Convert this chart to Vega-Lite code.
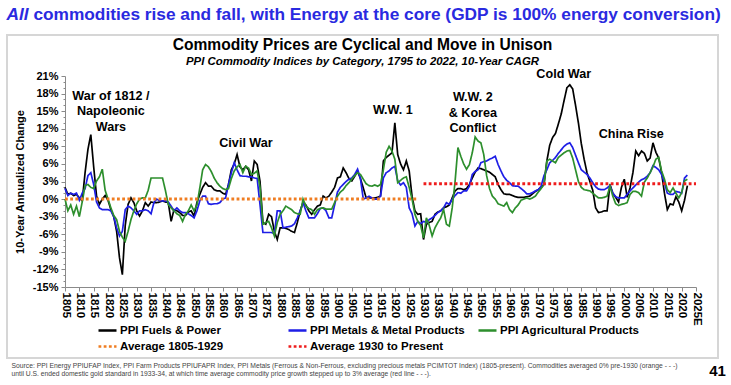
{
  "$schema": "https://vega.github.io/schema/vega-lite/v6.json",
  "width": 711,
  "height": 323,
  "autosize": {"type": "none"},
  "padding": {"left": 7, "top": 35, "right": 13, "bottom": 27},
  "background": "white",
  "title": {
    "text": "Commodity Prices are Cyclical and Move in Unison",
    "subtitle": "PPI Commodity Indices by Category, 1795 to 2022, 10-Year CAGR",
    "anchor": "middle", "frame": "group", "offset": -62,
    "font": "Liberation Sans", "fontSize": 15.6, "fontWeight": "bold", "color": "#000000",
    "subtitleFont": "Liberation Sans", "subtitleFontSize": 11.4, "subtitleFontWeight": "bold",
    "subtitleFontStyle": "italic", "subtitleColor": "#000000", "subtitlePadding": 2
  },
  "datasets": {
    "ppi": [
      {"year":1805,"fuels":2.0,"metals":1.8,"ag":0.0},
      {"year":1806,"fuels":0.8,"metals":0.6,"ag":-2.0},
      {"year":1807,"fuels":1.0,"metals":1.0,"ag":-1.0},
      {"year":1808,"fuels":0.6,"metals":0.8,"ag":-2.6},
      {"year":1809,"fuels":0.8,"metals":1.0,"ag":-1.2},
      {"year":1810,"fuels":0.2,"metals":-0.2,"ag":-3.0},
      {"year":1811,"fuels":-0.3,"metals":1.0,"ag":-0.5},
      {"year":1812,"fuels":4.5,"metals":1.8,"ag":2.3},
      {"year":1813,"fuels":8.5,"metals":4.0,"ag":2.5},
      {"year":1814,"fuels":11.0,"metals":4.5,"ag":2.0},
      {"year":1815,"fuels":5.5,"metals":2.5,"ag":1.8},
      {"year":1816,"fuels":0.5,"metals":-0.5,"ag":3.1},
      {"year":1817,"fuels":-0.9,"metals":-1.5,"ag":3.8},
      {"year":1818,"fuels":0.0,"metals":-1.8,"ag":5.1},
      {"year":1819,"fuels":0.6,"metals":-1.8,"ag":1.5},
      {"year":1820,"fuels":-0.2,"metals":-1.8,"ag":0.0},
      {"year":1821,"fuels":-1.8,"metals":-2.0,"ag":-1.5},
      {"year":1822,"fuels":-3.0,"metals":-3.0,"ag":-2.8},
      {"year":1823,"fuels":-5.5,"metals":-4.9,"ag":-3.5},
      {"year":1824,"fuels":-10.0,"metals":-6.3,"ag":-5.5},
      {"year":1825,"fuels":-12.9,"metals":-5.5,"ag":-6.5},
      {"year":1826,"fuels":-4.5,"metals":-1.8,"ag":-7.2},
      {"year":1827,"fuels":-0.9,"metals":-1.2,"ag":-5.5},
      {"year":1828,"fuels":0.2,"metals":-1.5,"ag":-3.5},
      {"year":1829,"fuels":-0.6,"metals":-2.0,"ag":-2.0},
      {"year":1830,"fuels":-2.0,"metals":-2.6,"ag":-0.8},
      {"year":1831,"fuels":-2.9,"metals":-2.0,"ag":0.0},
      {"year":1832,"fuels":-2.0,"metals":-2.0,"ag":0.2},
      {"year":1833,"fuels":-0.6,"metals":-1.8,"ag":0.2},
      {"year":1834,"fuels":-1.2,"metals":-2.0,"ag":1.5},
      {"year":1835,"fuels":-0.5,"metals":-2.5,"ag":3.6},
      {"year":1836,"fuels":-0.6,"metals":-0.6,"ag":3.6},
      {"year":1837,"fuels":-0.6,"metals":0.0,"ag":3.6},
      {"year":1838,"fuels":-0.5,"metals":-0.3,"ag":3.6},
      {"year":1839,"fuels":-0.3,"metals":-0.3,"ag":3.6},
      {"year":1840,"fuels":-0.5,"metals":-0.3,"ag":1.5},
      {"year":1841,"fuels":-0.6,"metals":-0.5,"ag":-0.9},
      {"year":1842,"fuels":-3.8,"metals":-1.2,"ag":-1.5},
      {"year":1843,"fuels":-1.8,"metals":-2.0,"ag":-2.0},
      {"year":1844,"fuels":-2.0,"metals":-1.5,"ag":-2.5},
      {"year":1845,"fuels":-2.3,"metals":-2.0,"ag":-2.8},
      {"year":1846,"fuels":-2.8,"metals":-2.3,"ag":-3.8},
      {"year":1847,"fuels":-2.8,"metals":-2.3,"ag":-2.6},
      {"year":1848,"fuels":-2.2,"metals":-2.5,"ag":-2.0},
      {"year":1849,"fuels":-2.0,"metals":-2.8,"ag":-1.0},
      {"year":1850,"fuels":-2.9,"metals":-3.2,"ag":-2.0},
      {"year":1851,"fuels":-0.6,"metals":-2.0,"ag":-1.0},
      {"year":1852,"fuels":0.8,"metals":-0.3,"ag":1.9},
      {"year":1853,"fuels":2.0,"metals":0.5,"ag":5.0},
      {"year":1854,"fuels":2.8,"metals":0.5,"ag":5.9},
      {"year":1855,"fuels":2.2,"metals":-0.8,"ag":5.5},
      {"year":1856,"fuels":2.2,"metals":-0.9,"ag":4.7},
      {"year":1857,"fuels":1.6,"metals":-0.8,"ag":3.6},
      {"year":1858,"fuels":1.4,"metals":-0.8,"ag":2.8},
      {"year":1859,"fuels":1.4,"metals":-0.6,"ag":2.2},
      {"year":1860,"fuels":1.0,"metals":0.0,"ag":1.8},
      {"year":1861,"fuels":0.8,"metals":0.2,"ag":1.6},
      {"year":1862,"fuels":2.5,"metals":2.5,"ag":1.8},
      {"year":1863,"fuels":5.0,"metals":4.5,"ag":3.5},
      {"year":1864,"fuels":6.0,"metals":6.2,"ag":4.8},
      {"year":1865,"fuels":7.6,"metals":5.0,"ag":5.5},
      {"year":1866,"fuels":5.5,"metals":4.0,"ag":5.9},
      {"year":1867,"fuels":5.0,"metals":3.9,"ag":4.5},
      {"year":1868,"fuels":5.6,"metals":3.9,"ag":5.6},
      {"year":1869,"fuels":5.0,"metals":3.8,"ag":5.3},
      {"year":1870,"fuels":3.1,"metals":3.8,"ag":4.2},
      {"year":1871,"fuels":6.5,"metals":3.6,"ag":4.4},
      {"year":1872,"fuels":5.9,"metals":3.5,"ag":4.8},
      {"year":1873,"fuels":3.0,"metals":-1.0,"ag":2.0},
      {"year":1874,"fuels":-4.0,"metals":-5.7,"ag":-4.3},
      {"year":1875,"fuels":-4.3,"metals":-5.7,"ag":-4.0},
      {"year":1876,"fuels":-2.6,"metals":-5.7,"ag":-3.8},
      {"year":1877,"fuels":-3.0,"metals":-5.7,"ag":-4.9},
      {"year":1878,"fuels":-5.5,"metals":-5.9,"ag":-6.3},
      {"year":1879,"fuels":-6.9,"metals":-2.0,"ag":-4.0},
      {"year":1880,"fuels":-4.9,"metals":-2.0,"ag":-2.6},
      {"year":1881,"fuels":-4.9,"metals":-4.9,"ag":-2.0},
      {"year":1882,"fuels":-5.0,"metals":-4.8,"ag":-1.2},
      {"year":1883,"fuels":-5.2,"metals":-4.7,"ag":-1.5},
      {"year":1884,"fuels":-5.5,"metals":-4.6,"ag":-1.8},
      {"year":1885,"fuels":-5.7,"metals":-4.2,"ag":-2.3},
      {"year":1886,"fuels":-4.0,"metals":-3.2,"ag":-2.5},
      {"year":1887,"fuels":-2.0,"metals":-2.0,"ag":-2.6},
      {"year":1888,"fuels":-0.6,"metals":-0.6,"ag":0.0},
      {"year":1889,"fuels":-1.0,"metals":-2.0,"ag":-1.2},
      {"year":1890,"fuels":-2.0,"metals":-3.2,"ag":-1.6},
      {"year":1891,"fuels":-2.6,"metals":-3.2,"ag":-1.8},
      {"year":1892,"fuels":-1.8,"metals":-3.2,"ag":-2.6},
      {"year":1893,"fuels":-1.2,"metals":-2.5,"ag":-1.8},
      {"year":1894,"fuels":-1.0,"metals":-1.6,"ag":-1.6},
      {"year":1895,"fuels":0.5,"metals":-1.5,"ag":-1.5},
      {"year":1896,"fuels":0.2,"metals":-2.0,"ag":-1.7},
      {"year":1897,"fuels":0.5,"metals":-3.2,"ag":-1.7},
      {"year":1898,"fuels":1.2,"metals":-3.2,"ag":-1.7},
      {"year":1899,"fuels":2.0,"metals":-1.0,"ag":-0.6},
      {"year":1900,"fuels":3.6,"metals":1.2,"ag":0.5},
      {"year":1901,"fuels":3.8,"metals":2.0,"ag":1.2},
      {"year":1902,"fuels":5.3,"metals":2.5,"ag":1.6},
      {"year":1903,"fuels":4.5,"metals":3.0,"ag":2.3},
      {"year":1904,"fuels":3.5,"metals":3.4,"ag":2.8},
      {"year":1905,"fuels":3.1,"metals":3.6,"ag":3.4},
      {"year":1906,"fuels":3.9,"metals":4.2,"ag":4.0},
      {"year":1907,"fuels":4.8,"metals":5.1,"ag":4.5},
      {"year":1908,"fuels":3.5,"metals":3.5,"ag":4.2},
      {"year":1909,"fuels":1.9,"metals":0.0,"ag":3.4},
      {"year":1910,"fuels":0.2,"metals":0.2,"ag":2.6},
      {"year":1911,"fuels":0.2,"metals":0.5,"ag":2.3},
      {"year":1912,"fuels":0.2,"metals":0.2,"ag":2.2},
      {"year":1913,"fuels":0.2,"metals":0.0,"ag":2.4},
      {"year":1914,"fuels":0.3,"metals":0.0,"ag":2.2},
      {"year":1915,"fuels":0.5,"metals":0.5,"ag":2.5},
      {"year":1916,"fuels":6.5,"metals":3.6,"ag":5.0},
      {"year":1917,"fuels":7.1,"metals":4.5,"ag":8.0},
      {"year":1918,"fuels":7.5,"metals":4.8,"ag":9.0},
      {"year":1919,"fuels":7.9,"metals":5.3,"ag":8.2},
      {"year":1920,"fuels":13.0,"metals":5.6,"ag":6.8},
      {"year":1921,"fuels":7.6,"metals":3.1,"ag":2.8},
      {"year":1922,"fuels":6.0,"metals":2.4,"ag":3.2},
      {"year":1923,"fuels":5.0,"metals":2.8,"ag":3.6},
      {"year":1924,"fuels":6.5,"metals":2.0,"ag":3.8},
      {"year":1925,"fuels":4.8,"metals":-1.5,"ag":2.0},
      {"year":1926,"fuels":0.5,"metals":-2.5,"ag":0.0},
      {"year":1927,"fuels":-2.0,"metals":-4.6,"ag":-2.6},
      {"year":1928,"fuels":-2.6,"metals":-3.8,"ag":-3.8},
      {"year":1929,"fuels":-2.5,"metals":-4.2,"ag":-4.5},
      {"year":1930,"fuels":-6.9,"metals":-3.8,"ag":-6.6},
      {"year":1931,"fuels":-4.3,"metals":-4.0,"ag":-3.2},
      {"year":1932,"fuels":-4.0,"metals":-3.5,"ag":-4.5},
      {"year":1933,"fuels":-3.8,"metals":-3.2,"ag":-6.3},
      {"year":1934,"fuels":-2.6,"metals":-2.8,"ag":-4.9},
      {"year":1935,"fuels":-2.2,"metals":-2.3,"ag":-4.0},
      {"year":1936,"fuels":-2.0,"metals":-2.0,"ag":-3.2},
      {"year":1937,"fuels":-1.5,"metals":-1.5,"ag":-1.8},
      {"year":1938,"fuels":-1.3,"metals":-0.6,"ag":-4.3},
      {"year":1939,"fuels":-1.0,"metals":-0.9,"ag":-4.6},
      {"year":1940,"fuels":0.2,"metals":0.0,"ag":-1.5},
      {"year":1941,"fuels":1.4,"metals":0.6,"ag":3.0},
      {"year":1942,"fuels":1.8,"metals":1.1,"ag":8.8},
      {"year":1943,"fuels":1.8,"metals":1.0,"ag":7.3},
      {"year":1944,"fuels":1.6,"metals":1.4,"ag":6.0},
      {"year":1945,"fuels":1.8,"metals":1.4,"ag":5.1},
      {"year":1946,"fuels":2.5,"metals":2.2,"ag":5.9},
      {"year":1947,"fuels":3.6,"metals":4.2,"ag":7.9},
      {"year":1948,"fuels":4.6,"metals":4.7,"ag":10.6},
      {"year":1949,"fuels":5.3,"metals":5.0,"ag":9.9},
      {"year":1950,"fuels":5.2,"metals":6.2,"ag":9.6},
      {"year":1951,"fuels":5.0,"metals":6.4,"ag":7.6},
      {"year":1952,"fuels":4.8,"metals":6.5,"ag":4.0},
      {"year":1953,"fuels":4.6,"metals":6.8,"ag":1.8},
      {"year":1954,"fuels":4.2,"metals":7.0,"ag":0.5},
      {"year":1955,"fuels":3.8,"metals":7.3,"ag":0.0},
      {"year":1956,"fuels":2.5,"metals":5.9,"ag":-0.8},
      {"year":1957,"fuels":1.6,"metals":4.8,"ag":-1.0},
      {"year":1958,"fuels":0.9,"metals":3.8,"ag":-1.2},
      {"year":1959,"fuels":0.8,"metals":3.2,"ag":-0.6},
      {"year":1960,"fuels":0.8,"metals":2.8,"ag":-1.8},
      {"year":1961,"fuels":0.6,"metals":2.3,"ag":-2.3},
      {"year":1962,"fuels":0.4,"metals":2.2,"ag":-1.5},
      {"year":1963,"fuels":0.3,"metals":2.2,"ag":-1.0},
      {"year":1964,"fuels":0.3,"metals":1.8,"ag":-0.2},
      {"year":1965,"fuels":0.3,"metals":1.4,"ag":0.0},
      {"year":1966,"fuels":0.4,"metals":0.9,"ag":0.2},
      {"year":1967,"fuels":0.5,"metals":0.9,"ag":0.0},
      {"year":1968,"fuels":0.9,"metals":1.1,"ag":0.2},
      {"year":1969,"fuels":1.3,"metals":1.4,"ag":0.5},
      {"year":1970,"fuels":1.6,"metals":1.6,"ag":1.2},
      {"year":1971,"fuels":2.0,"metals":2.2,"ag":1.8},
      {"year":1972,"fuels":2.5,"metals":4.0,"ag":2.5},
      {"year":1973,"fuels":6.5,"metals":5.0,"ag":6.5},
      {"year":1974,"fuels":9.2,"metals":6.2,"ag":6.8},
      {"year":1975,"fuels":10.5,"metals":6.6,"ag":6.5},
      {"year":1976,"fuels":11.2,"metals":7.1,"ag":6.2},
      {"year":1977,"fuels":12.8,"metals":7.8,"ag":7.1},
      {"year":1978,"fuels":14.5,"metals":8.4,"ag":7.5},
      {"year":1979,"fuels":16.8,"metals":9.0,"ag":7.9},
      {"year":1980,"fuels":19.0,"metals":9.4,"ag":8.2},
      {"year":1981,"fuels":19.5,"metals":9.6,"ag":8.3},
      {"year":1982,"fuels":18.8,"metals":8.8,"ag":7.0},
      {"year":1983,"fuels":16.0,"metals":7.5,"ag":5.0},
      {"year":1984,"fuels":13.0,"metals":6.2,"ag":3.0},
      {"year":1985,"fuels":9.5,"metals":5.0,"ag":2.0},
      {"year":1986,"fuels":6.8,"metals":4.6,"ag":1.6},
      {"year":1987,"fuels":4.5,"metals":4.2,"ag":1.5},
      {"year":1988,"fuels":3.0,"metals":3.6,"ag":1.4},
      {"year":1989,"fuels":1.5,"metals":2.8,"ag":1.0},
      {"year":1990,"fuels":-1.5,"metals":2.1,"ag":0.6},
      {"year":1991,"fuels":-2.3,"metals":1.7,"ag":0.2},
      {"year":1992,"fuels":-2.2,"metals":1.6,"ag":0.2},
      {"year":1993,"fuels":-2.0,"metals":1.6,"ag":0.3},
      {"year":1994,"fuels":-2.0,"metals":1.9,"ag":0.5},
      {"year":1995,"fuels":2.5,"metals":2.3,"ag":2.2},
      {"year":1996,"fuels":1.0,"metals":1.0,"ag":0.5},
      {"year":1997,"fuels":0.3,"metals":0.4,"ag":-0.8},
      {"year":1998,"fuels":-0.5,"metals":0.2,"ag":-1.1},
      {"year":1999,"fuels":2.0,"metals":0.2,"ag":-0.9},
      {"year":2000,"fuels":3.4,"metals":0.2,"ag":-0.8},
      {"year":2001,"fuels":0.3,"metals":0.8,"ag":-0.6},
      {"year":2002,"fuels":1.9,"metals":1.4,"ag":0.8},
      {"year":2003,"fuels":4.5,"metals":1.9,"ag":1.3},
      {"year":2004,"fuels":8.2,"metals":2.4,"ag":1.3},
      {"year":2005,"fuels":7.4,"metals":2.9,"ag":1.1},
      {"year":2006,"fuels":8.2,"metals":3.3,"ag":0.5},
      {"year":2007,"fuels":7.8,"metals":3.5,"ag":2.9},
      {"year":2008,"fuels":6.5,"metals":3.9,"ag":3.6},
      {"year":2009,"fuels":7.0,"metals":4.5,"ag":4.5},
      {"year":2010,"fuels":9.6,"metals":5.7,"ag":5.5},
      {"year":2011,"fuels":8.0,"metals":5.4,"ag":6.8},
      {"year":2012,"fuels":7.0,"metals":5.0,"ag":7.1},
      {"year":2013,"fuels":4.5,"metals":4.2,"ag":4.8},
      {"year":2014,"fuels":1.0,"metals":2.8,"ag":3.4},
      {"year":2015,"fuels":-1.8,"metals":1.0,"ag":1.6},
      {"year":2016,"fuels":-0.8,"metals":0.8,"ag":1.1},
      {"year":2017,"fuels":-1.0,"metals":0.8,"ag":1.9},
      {"year":2018,"fuels":0.4,"metals":1.3,"ag":1.0},
      {"year":2019,"fuels":-0.5,"metals":1.2,"ag":0.2},
      {"year":2020,"fuels":-2.0,"metals":1.0,"ag":1.1},
      {"year":2021,"fuels":-0.2,"metals":3.6,"ag":3.1},
      {"year":2022,"fuels":2.3,"metals":4.1,"ag":3.4}
    ],
    "avg": [
      {"series":"avg1","year":1805,"value":0},
      {"series":"avg1","year":1928,"value":0},
      {"series":"avg2","year":1930,"value":2.6},
      {"series":"avg2","year":2025,"value":2.6}
    ],
    "notes": [
      {"year":1821,"value":17.6,"label":"War of 1812 /\nNapoleonic\nWars"},
      {"year":1868.1,"value":9.6,"label":"Civil War"},
      {"year":1919.3,"value":15.2,"label":"W.W. 1"},
      {"year":1947.2,"value":17.4,"label":"W.W. 2\n& Korea\nConflict"},
      {"year":1978.9,"value":21.3,"label":"Cold War"},
      {"year":2002.4,"value":11.1,"label":"China Rise"}
    ]
  },
  "layer": [
    {
      "data": {"name": "ppi"},
      "transform": [{"fold": ["fuels", "metals", "ag"], "as": ["series", "value"]}],
      "mark": {"type": "line", "strokeWidth": 1.7},
      "encoding": {
        "x": {
          "field": "year", "type": "quantitative",
          "scale": {"domain": [1805, 2025], "range": [58, 689], "nice": false, "zero": false},
          "axis": {
            "orient": "bottom", "offset": -71,
            "values": [1805,1810,1815,1820,1825,1830,1835,1840,1845,1850,1855,1860,1865,1870,1875,1880,1885,1890,1895,1900,1905,1910,1915,1920,1925,1930,1935,1940,1945,1950,1955,1960,1965,1970,1975,1980,1985,1990,1995,2000,2005,2010,2015,2020,2025],
            "labelExpr": "datum.value == 2025 ? '2025E' : '' + datum.value",
            "labelAngle": 90, "labelFont": "Liberation Sans", "labelFontSize": 11.5, "labelFontWeight": "bold",
            "labelColor": "#000000", "labelPadding": 1, "labelOverlap": false, "labelBound": false, "labelFlush": false,
            "tickSize": 4, "tickColor": "#8a8a8a", "domainColor": "#8a8a8a", "grid": false,
            "title": ["Source:  PPI Energy PPIUFAP Index, PPI Farm Products PPIUFAPR Index, PPI Metals (Ferrous & Non-Ferrous, excluding precious metals PCIMTOT Index) (1805-present). Commodities averaged 0% pre-1930 (orange - - -)", "until U.S. ended domestic gold standard in 1933-34, at which time average commodity price growth stepped up to 3% average (red line - - -)."],
            "titleFont": "Liberation Sans", "titleFontSize": 6.75, "titleFontWeight": "normal", "titleColor": "#444444",
            "titleAlign": "left", "titleBaseline": "top", "titleAnchor": "start", "titleX": 4, "titleY": 75, "titleLineHeight": 8.5
          }
        },
        "y": {
          "field": "value", "type": "quantitative",
          "scale": {"domain": [-15, 21], "range": [252, 41], "nice": false, "zero": false},
          "axis": {
            "orient": "left", "offset": -58,
            "values": [-15,-12,-9,-6,-3,0,3,6,9,12,15,18,21],
            "labelExpr": "datum.value + '%'",
            "labelFont": "Liberation Sans", "labelFontSize": 11, "labelFontWeight": "bold", "labelColor": "#000000",
            "labelPadding": 3, "tickSize": 4, "tickColor": "#8a8a8a", "domainColor": "#8a8a8a", "grid": false,
            "title": "10-Year Annualized Change", "titleFont": "Liberation Sans", "titleFontSize": 11, "titleFontWeight": "bold",
            "titleColor": "#000000", "titleX": -45, "titleY": 146.5, "titleAngle": 270, "titleAlign": "center", "titleBaseline": "middle"
          }
        },
        "color": {
          "field": "series", "type": "nominal",
          "scale": {"domain": ["fuels", "metals", "ag", "avg1", "avg2"], "range": ["#000000", "#1e1ee6", "#2d8f2d", "#ef7d22", "#ee1c1c"]},
          "legend": {"labelExpr": "datum.label == 'fuels' ? 'PPI Fuels & Power' : datum.label == 'metals' ? 'PPI Metals & Metal Products' : datum.label == 'ag' ? 'PPI Agricultural Products' : datum.label == 'avg1' ? 'Average 1805-1929' : 'Average 1930 to Present'"}
        },
        "strokeDash": {
          "field": "series", "type": "nominal",
          "scale": {"domain": ["fuels", "metals", "ag", "avg1", "avg2"], "range": [[1, 0], [1, 0], [1, 0], [2.8, 2.4], [2.8, 2.4]]},
          "legend": {"labelExpr": "datum.label == 'fuels' ? 'PPI Fuels & Power' : datum.label == 'metals' ? 'PPI Metals & Metal Products' : datum.label == 'ag' ? 'PPI Agricultural Products' : datum.label == 'avg1' ? 'Average 1805-1929' : 'Average 1930 to Present'"}
        }
      }
    },
    {
      "data": {"name": "avg"},
      "mark": {"type": "line", "strokeWidth": 3},
      "encoding": {
        "x": {
          "field": "year", "type": "quantitative",
          "axis": {
            "orient": "top", "domain": false, "ticks": false, "labels": false, "grid": false,
            "title": "All", "titleFont": "Liberation Sans", "titleFontSize": 17.3, "titleFontWeight": "bold",
            "titleFontStyle": "italic", "titleColor": "#2a2ae0", "titleX": -1, "titleY": -16,
            "titleAlign": "left", "titleBaseline": "alphabetic", "titleAngle": 0
          }
        },
        "y": {
          "field": "value", "type": "quantitative",
          "axis": {
            "orient": "right", "domain": false, "ticks": false, "labels": false, "grid": false,
            "title": "41", "titleFont": "Liberation Sans", "titleFontSize": 15, "titleFontWeight": "bold",
            "titleColor": "#000000", "titleAngle": 0, "titleX": -1, "titleY": 335, "titleAlign": "center", "titleBaseline": "middle"
          }
        },
        "color": {"field": "series", "type": "nominal"},
        "strokeDash": {"field": "series", "type": "nominal"}
      }
    },
    {
      "data": {"name": "notes"},
      "mark": {"type": "text", "font": "Liberation Sans", "fontSize": 12.6, "fontWeight": "bold", "lineBreak": "\n", "lineHeight": 15.5, "align": "center", "baseline": "middle", "color": "#000000"},
      "encoding": {
        "x": {
          "field": "year", "type": "quantitative",
          "axis": {
            "orient": "top", "domain": false, "ticks": false, "labels": false, "grid": false,
            "title": "commodities rise and fall, with Energy at the core (GDP is 100% energy conversion)",
            "titleFont": "Liberation Sans", "titleFontSize": 17.3, "titleFontWeight": "bold", "titleColor": "#2a2ae0",
            "titleX": 25.9, "titleY": -16, "titleAlign": "left", "titleBaseline": "alphabetic", "titleAngle": 0
          }
        },
        "y": {
          "field": "value", "type": "quantitative",
          "axis": {
            "orient": "left", "offset": -58, "values": [-14,-13,-11,-10,-8,-7,-5,-4,-2,-1,1,2,4,5,7,8,10,11,13,14,16,17,19,20],
            "labels": false, "domain": false, "tickSize": 2, "tickColor": "#8a8a8a", "grid": false, "title": null
          }
        },
        "text": {"field": "label", "type": "nominal"}
      }
    }
  ],
  "resolve": {"axis": {"x": "independent", "y": "independent"}},
  "config": {
    "view": {"stroke": "#d6d6d6", "strokeWidth": 2},
    "font": "Liberation Sans",
    "legend": {
      "orient": "none", "direction": "horizontal", "legendX": 90, "legendY": 285, "columns": 3, "gridAlign": "all",
      "columnPadding": 8, "rowPadding": -2, "symbolType": "stroke", "symbolSize": 324, "symbolStrokeWidth": 2.5,
      "labelFont": "Liberation Sans", "labelFontSize": 11.5, "labelFontWeight": "bold", "labelColor": "#000000",
      "labelOffset": 2, "title": null, "labelLimit": 400, "padding": 0
    }
  }
}
